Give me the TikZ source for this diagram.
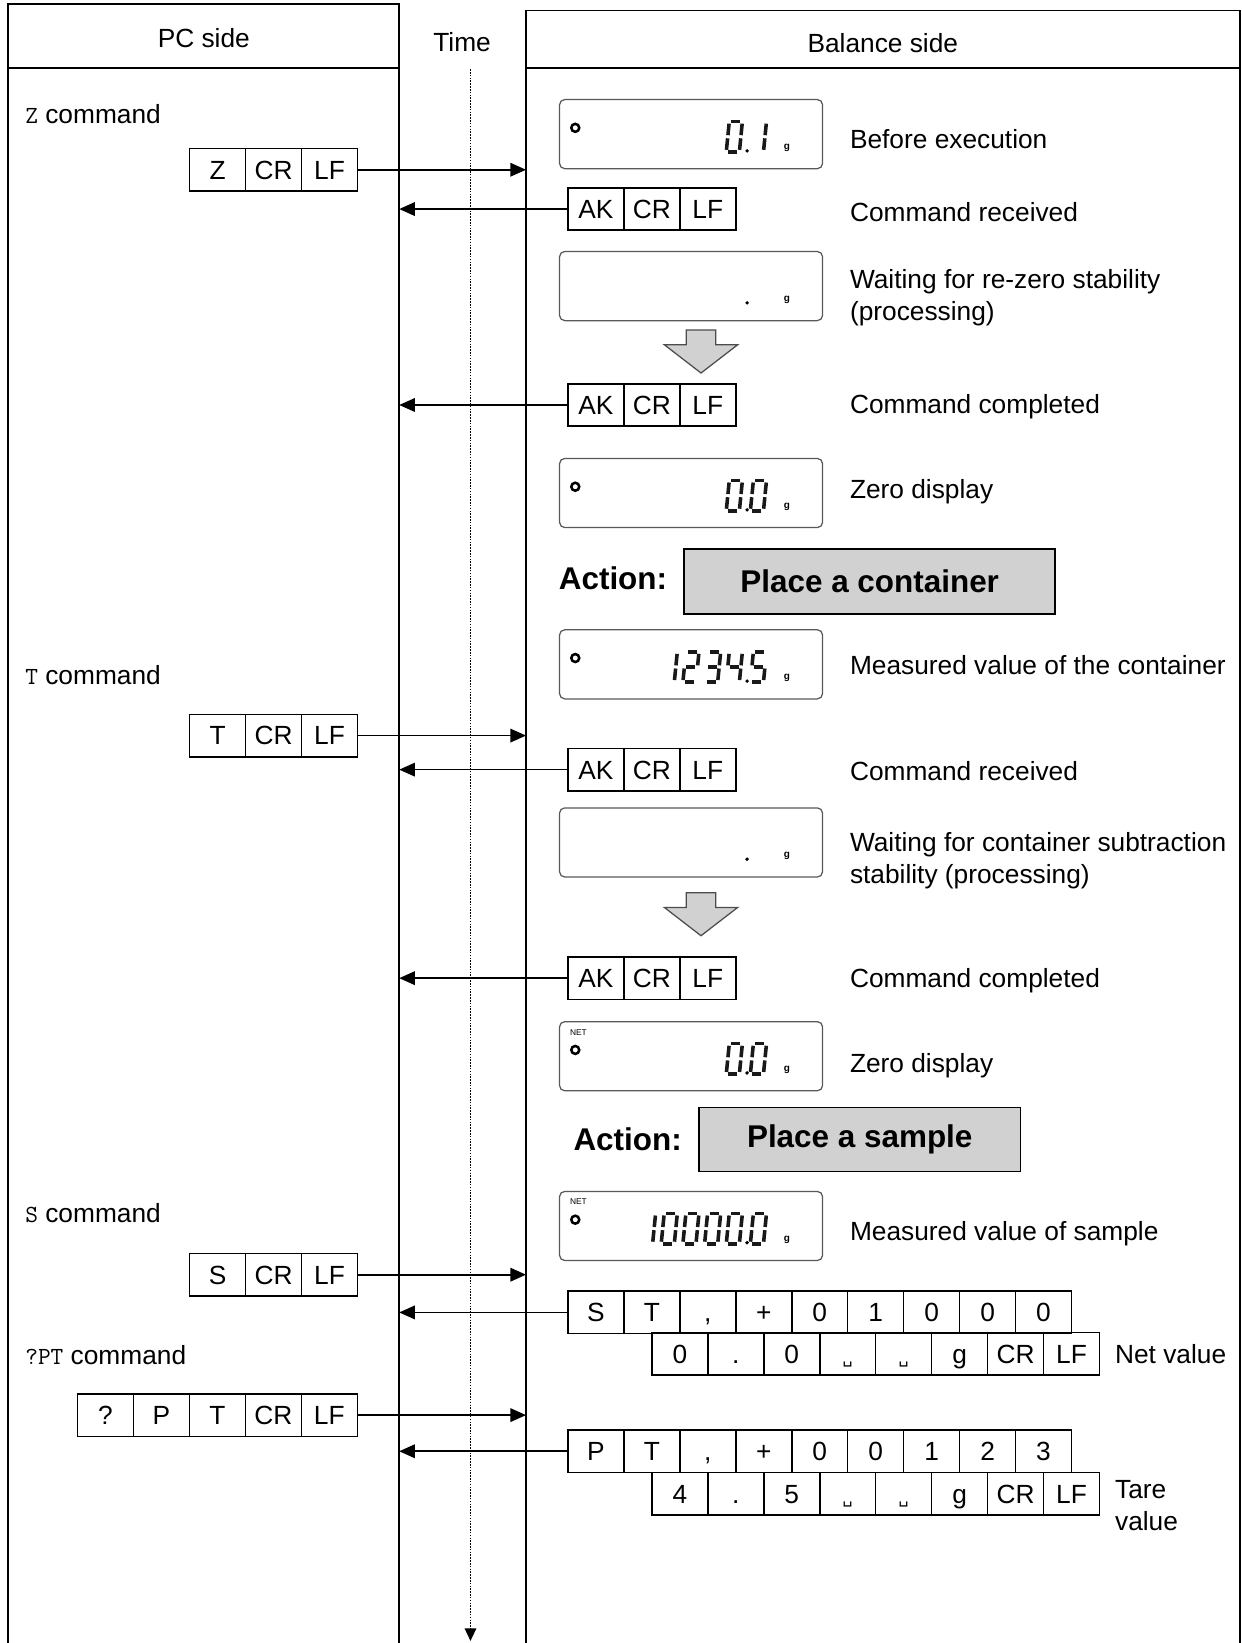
\documentclass[tikz,border=0pt]{standalone}
\usepackage{fontspec}
\setmainfont{Liberation Sans}
\newfontfamily\symfont{DejaVu Sans}
\usetikzlibrary{arrows.meta}

\newcommand{\blank}{{\symfont\fontsize{15}{15}\selectfont ␣}}
\newcommand{\cmdname}[1]{{\ttfamily\fontsize{23.5}{26}\selectfont #1}}
% one slanted seven-segment digit, #1 #2 = top left, #3 = segments
\newcommand{\lcddigit}[3]{%
  \begin{scope}[shift={(#1,#2)},xslant=0.1]
    \coordinate (sa1) at (2,0);      \coordinate (sa2) at (10.5,0);
    \coordinate (sb1) at (12.5,2);   \coordinate (sb2) at (12.5,13);
    \coordinate (sc1) at (12.5,16);  \coordinate (sc2) at (12.5,27);
    \coordinate (sd1) at (2,29);     \coordinate (sd2) at (10.5,29);
    \coordinate (se1) at (0,16);     \coordinate (se2) at (0,27);
    \coordinate (sf1) at (0,2);      \coordinate (sf2) at (0,13);
    \coordinate (sg1) at (2,14.5);   \coordinate (sg2) at (10.5,14.5);
    \foreach \s in {#3} \draw[lcdseg] (s\s1) -- (s\s2);
  \end{scope}}

\begin{document}
\begin{tikzpicture}[x=1pt,y=-1pt,font=\fontsize{25.1}{30}\selectfont]
\tikzstyle{frame}=[draw,line width=1.8pt]
\tikzstyle{byte}=[draw,line width=1.5pt,minimum width=53.4pt,minimum height=40.5pt,inner sep=0pt,text height=17.9pt,text depth=0pt]
\tikzstyle{msg}=[draw,line width=1.6pt,-{Triangle[length=15pt,width=13pt]}]
\tikzstyle{timeline}=[line width=1.5pt,dash pattern=on 1.5pt off 1.2pt,-{Triangle[length=12pt,width=11pt]}]
\tikzstyle{display}=[draw=black!65,rounded corners=5pt,line width=1.2pt,minimum width=251pt,minimum height=66pt,inner sep=0pt]
\tikzstyle{note}=[anchor=west,inner sep=0pt,align=left]
\tikzstyle{lcdseg}=[line width=3.4pt,black!90]
\tikzstyle{ring}=[draw,line width=2.4pt]
\tikzstyle{unit}=[font=\fontsize{9.5}{9.5}\selectfont\bfseries,inner sep=0pt]
\tikzstyle{tag}=[font=\fontsize{8}{8}\selectfont,inner sep=0pt]
\tikzstyle{action}=[font=\fontsize{30}{36}\selectfont\bfseries,inner sep=0pt]
\tikzstyle{actionbox}=[draw,fill=black!18,line width=1.5pt,inner sep=0pt,font=\fontsize{30}{36}\selectfont\bfseries]
\tikzstyle{blockarrow}=[draw=black!70,fill=black!18,line width=1.2pt]

\useasboundingbox (0,0) rectangle (1185,1568);

% frames
\draw[frame] (8,1568) |- (381,4) -- (381,1568);
\draw[frame] (8,65) -- (381,65);
\draw[frame] (502,1568) |- (1183,10) -- (1183,1568);
\draw[frame] (502,65) -- (1183,65);
\coordinate (pc) at (381,0);
\coordinate (bal) at (502,0);

\node (pchead) at (194.5,36) {PC side};
\node (timehead) at (441,40) {Time};
\node (balhead) at (842.5,41) {Balance side};

\coordinate (t0) at (449,66);
\coordinate (t1) at (449,1566);
\draw[timeline] (t0) -- (t1);

% PC side
\node[note] (zcmd) at (24,109) {\cmdname{Z} command};
\node[note] (tcmd) at (24,644) {\cmdname{T} command};
\node[note] (scmd) at (24,1158) {\cmdname{S} command};
\node[note] (qcmd) at (24,1293) {\cmdname{?PT} command};

\foreach \t [count=\i] in {Z,CR,LF}
  \node[byte] (z\i) at (154.3+53.4*\i,162) {\t};
\foreach \t [count=\i] in {T,CR,LF}
  \node[byte] (t\i) at (154.3+53.4*\i,702) {\t};
\foreach \t [count=\i] in {S,CR,LF}
  \node[byte] (s\i) at (154.3+53.4*\i,1216.5) {\t};
\foreach \t [count=\i] in {?,P,T,CR,LF}
  \node[byte] (q\i) at (47.3+53.4*\i,1350.5) {\t};

% balance side
\foreach \r/\y in {1/199.5,2/386.5,3/734.5,4/933.5}
  \foreach \t [count=\i] in {AK,CR,LF}
    \node[byte] (ak\r\i) at (515.3+53.4*\i,\y) {\t};
\foreach \t [count=\i] in {S,T,{,},+,0,1,0,0,0}
  \node[byte] (st\i) at (515.3+53.4*\i,1252.5) {\t};
\foreach \t [count=\i] in {0,.,0,\blank,\blank,g,CR,LF}
  \node[byte] (sv\i) at (595.4+53.4*\i,1292) {\t};
\foreach \t [count=\i] in {P,T,{,},+,0,0,1,2,3}
  \node[byte] (pt\i) at (515.3+53.4*\i,1385) {\t};
\foreach \t [count=\i] in {4,.,5,\blank,\blank,g,CR,LF}
  \node[byte] (pv\i) at (595.4+53.4*\i,1425.5) {\t};

\path (z3) edge[msg] (z3 -| bal);
\path (t3) edge[msg] (t3 -| bal);
\path (s3) edge[msg] (s3 -| bal);
\path (q5) edge[msg] (q5 -| bal);
\foreach \r in {1,...,4}
  \path (ak\r1) edge[msg] (ak\r1 -| pc);
\path (st1) edge[msg] (st1 -| pc);
\path (pt1) edge[msg] (pt1 -| pc);

% displays
\foreach \n/\y in {1/128,2/273,3/470.5,4/634,5/804,6/1008,7/1170} {
  \node[display] (d\n) at (659.5,\y) {};
  \node[unit] (g\n) at (751,\y+13) {g};
  \fill (713,\y+16) circle (1.8pt);
}
\foreach \y in {128,470.5,634,1008,1170}
  \draw[ring] (549,\y-6) circle (3.8pt);
\foreach \n/\y in {6/985,7/1147}
  \node[tag] (net\n) at (552,\y) {NET};

\lcddigit{696}{116}{a,b,c,d,e,f}
\lcddigit{719}{116}{b,c}
\lcddigit{696}{458.5}{a,b,c,d,e,f}
\lcddigit{719}{458.5}{a,b,c,d,e,f}
\lcddigit{633.9}{622}{b,c}
\lcddigit{654.6}{622}{a,b,g,e,d}
\lcddigit{675.3}{622}{a,b,g,c,d}
\lcddigit{696}{622}{f,g,b,c}
\lcddigit{719}{622}{a,f,g,c,d}
\lcddigit{696}{996}{a,b,c,d,e,f}
\lcddigit{719}{996}{a,b,c,d,e,f}
\lcddigit{613.2}{1158}{b,c}
\foreach \x in {633.9,654.6,675.3,696,719} {
  \lcddigit{\x}{1158}{a,b,c,d,e,f}
}

\foreach \y in {315,852}
  \draw[blockarrow] (655,\y) -- (683,\y) -- (683,\y+14) -- (704,\y+14)
    -- (669,\y+41) -- (634,\y+14) -- (655,\y+14) -- cycle;

\node[action] (act1) at (585,552) {Action:};
\node[actionbox,minimum width=354pt,minimum height=62pt] (place1) at (830,555) {Place a container};
\node[action] (act2) at (599,1087) {Action:};
\node[actionbox,minimum width=307pt,minimum height=61pt] (place2) at (820.5,1087.5) {Place a sample};

% notes
\node[note] (n1) at (811,133) {Before execution};
\node[note] (n2) at (811,202) {Command received};
\node[note] (n3) at (811,284) {Waiting for re-zero stability\\(processing)};
\node[note] (n4) at (811,388) {Command completed};
\node[note] (n5) at (811,469) {Zero display};
\node[note] (n6) at (811,635) {Measured value of the container};
\node[note] (n7) at (811,736) {Command received};
\node[note] (n8) at (811,821.5) {Waiting for container subtraction\\stability (processing)};
\node[note] (n9) at (811,936) {Command completed};
\node[note] (n10) at (811,1017) {Zero display};
\node[note] (n11) at (811,1177) {Measured value of sample};
\node[note] (n12) at (1064,1292) {Net value};
\node[note] (n13) at (1064,1437) {Tare\\value};

\end{tikzpicture}
\end{document}
